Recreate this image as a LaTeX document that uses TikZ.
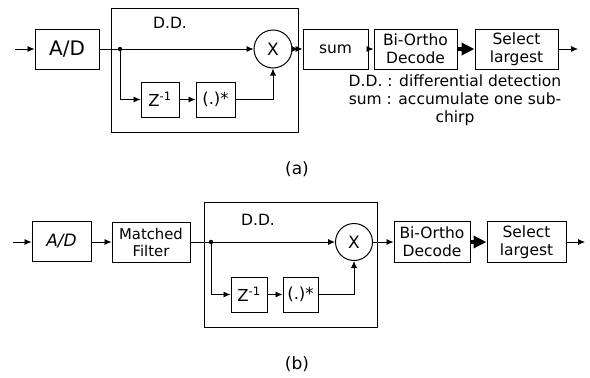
\documentclass[tikz,border=0pt]{standalone}
\usepackage{fontspec}
\setmainfont{DejaVu Sans}
\usetikzlibrary{arrows.meta, calc}

\begin{document}
\begin{tikzpicture}[x=1pt, y=-1pt, >={Latex[length=7pt, width=6pt]},
  every node/.style={font=\fontsize{15.5}{18}\selectfont, inner sep=0pt},
  blk/.style={draw, line width=1pt, align=center},
  grp/.style={draw, line width=1pt},
  mul/.style={draw, circle, line width=1pt, minimum size=38pt},
  dot/.style={circle, fill, minimum size=4.5pt},
  wire/.style={line width=0.8pt},
  bigarrow/.style={line width=3.5pt, -{Triangle[length=13pt, width=12pt]}}]
  \useasboundingbox (0,0) rectangle (590,378);
  % (a)
  \node[blk, minimum width=64pt, minimum height=40pt, font=\fontsize{20}{22}\selectfont] (adA) at (67,49) {A/D};
  \node[grp, minimum width=187pt, minimum height=124pt] (ddA) at (204.5,70) {};
  \node (ddlblA) at (170,23) {D.D.};
  \node[dot] (splitA) at (120,49) {};
  \node[mul, font=\fontsize{17}{19}\selectfont] (mulA) at (273,49) {X};
  \node[blk, minimum width=38pt, minimum height=35pt, font=\fontsize{16.5}{18}\selectfont] (delayA) at (160,99.5) {Z\textsuperscript{-1}};
  \node[blk, minimum width=39pt, minimum height=35pt, font=\fontsize{16.5}{18}\selectfont] (conjA) at (215.5,99.5) {(.)*};
  \node[blk, minimum width=65pt, minimum height=40pt] (sumA) at (335.5,49) {sum};
  \node[blk, minimum width=83pt, minimum height=40pt] (decA) at (415.5,49) {Bi-Ortho\\Decode};
  \node[blk, minimum width=83pt, minimum height=40pt] (selA) at (516.5,49) {Select\\largest};
  \coordinate (inA) at (15,49);
  \coordinate (outA) at (578,49);
  \coordinate (ddoutA) at (ddA.east |- mulA);
  \draw[wire, ->] (inA) -- (adA);
  \draw[wire] (adA) -- (splitA);
  \draw[wire, ->] (splitA) -- (mulA);
  \draw[wire, ->] (splitA) |- (delayA);
  \draw[wire, ->] (delayA) -- (conjA);
  \draw[wire, ->] (conjA) -| (mulA);
  \draw[wire, ->] (mulA) -- (ddoutA);
  \draw[wire, ->] (ddoutA) -- (sumA);
  \draw[wire, ->] (sumA) -- (decA);
  \draw[bigarrow] (decA) -- (selA);
  \draw[wire, ->] (selA) -- (outA);
  \node[align=center] (legend) at (455,100) {D.D. : differential detection\\sum : accumulate one sub-\\chirp};
  \node[font=\fontsize{17}{19}\selectfont] (capA) at (297,169) {(a)};
  % (b)
  \node[blk, minimum width=59pt, minimum height=40pt, font=\fontsize{17}{19}\selectfont\itshape] (adB) at (61.5,241) {A/D};
  \node[blk, minimum width=78pt, minimum height=40pt, font=\fontsize{14.8}{17}\selectfont] (mfB) at (151,242) {Matched\\Filter};
  \node[grp, minimum width=173pt, minimum height=125pt] (ddB) at (290.5,264.5) {};
  \node (ddlblB) at (258,220) {D.D.};
  \node[dot] (splitB) at (211,242) {};
  \node[mul, minimum size=37pt, font=\fontsize{17}{19}\selectfont] (mulB) at (354,242) {X};
  \node[blk, minimum width=36pt, minimum height=35pt, font=\fontsize{16.5}{18}\selectfont] (delayB) at (249,294.5) {Z\textsuperscript{-1}};
  \node[blk, minimum width=35pt, minimum height=35pt, font=\fontsize{16.5}{18}\selectfont] (conjB) at (300.5,294.5) {(.)*};
  \node[blk, minimum width=76pt, minimum height=41pt] (decB) at (432,242) {Bi-Ortho\\Decode};
  \node[blk, minimum width=79pt, minimum height=41pt] (selB) at (526.5,242) {Select\\largest};
  \coordinate (inB) at (13,242);
  \coordinate (outB) at (585,242);
  \draw[wire, ->] (inB) -- (adB.west |- inB);
  \draw[wire, ->] (adB.east |- inB) -- (mfB);
  \draw[wire] (mfB) -- (splitB);
  \draw[wire, ->] (splitB) -- (mulB);
  \draw[wire, ->] (splitB) |- (delayB);
  \draw[wire, ->] (delayB) -- (conjB);
  \draw[wire, ->] (conjB) -| (mulB);
  \draw[wire, ->] (mulB) -- (decB);
  \draw[bigarrow] (decB) -- (selB);
  \draw[wire, ->] (selB) -- (outB);
  \node[font=\fontsize{17}{19}\selectfont] (capB) at (297,364) {(b)};
\end{tikzpicture}
\end{document}
